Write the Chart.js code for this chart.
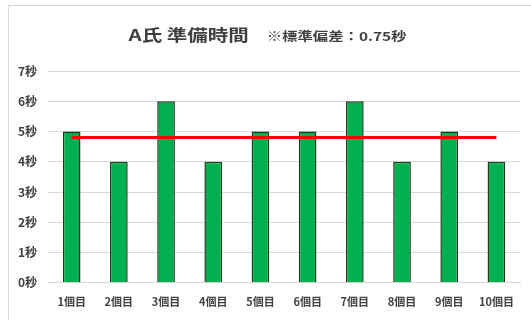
<!DOCTYPE html>
<html lang="ja">
<head>
<meta charset="utf-8">
<title>A氏 準備時間</title>
<script src="https://cdn.jsdelivr.net/npm/chart.js@4/dist/chart.umd.min.js"></script>
<style>
    html, body { margin: 0; padding: 0; background: #ffffff; }
    #chartBox { width: 531px; height: 320px; }
</style>
</head>
<body>
<div id="chartBox"><canvas id="prepChart"></canvas></div>
<script>
const attempts = ['1個目', '2個目', '3個目', '4個目', '5個目', '6個目', '7個目', '8個目', '9個目', '10個目'];
const prepSeconds = [5, 4, 6, 4, 5, 5, 6, 4, 5, 4];
const averageLine = [4.8, 4.8, 4.8, 4.8, 4.8, 4.8, 4.8, 4.8, 4.8, 4.8];
const titleMain = 'A氏 準備時間';
const titleNote = '※標準偏差：0.75秒';

const jpFont = '"Noto Sans CJK JP", "Noto Sans", sans-serif';
const labelColor = '#404040';

// frame + two-size heading (text drawn a bit wide)
const headingPlugin = {
    id: 'heading',
    beforeDraw(chart) {
        const ctx = chart.ctx;
        ctx.save();
        ctx.strokeStyle = '#d9d9d9';
        ctx.lineWidth = 1;
        ctx.strokeRect(8.5, 5.5, 540, 330);
        ctx.restore();
    },
    afterDraw(chart) {
        const ctx = chart.ctx;
        const stretch = 1.28;
        ctx.save();
        ctx.fillStyle = labelColor;
        ctx.textBaseline = 'middle';
        ctx.font = 'bold 16px ' + jpFont;
        const mainWidth = ctx.measureText(titleMain).width * stretch;
        ctx.font = 'bold 12px ' + jpFont;
        const noteWidth = ctx.measureText(titleNote).width * stretch;
        const gap = 18;
        const x = 267.5 - (mainWidth + gap + noteWidth) / 2;

        ctx.save();
        ctx.translate(x, 35);
        ctx.scale(stretch, 1);
        ctx.font = 'bold 16px ' + jpFont;
        ctx.fillText(titleMain, 0, 0);
        ctx.restore();

        ctx.save();
        ctx.translate(x + mainWidth + gap, 36);
        ctx.scale(stretch, 1);
        ctx.font = 'bold 12px ' + jpFont;
        ctx.fillText(titleNote, 0, 0);
        ctx.restore();

        ctx.restore();
    }
};

new Chart(document.getElementById('prepChart'), {
    data: {
        labels: attempts,
        datasets: [
            {
                type: 'line',
                data: averageLine,
                borderColor: '#ff0000',
                borderWidth: 3,
                pointRadius: 0,
                fill: false,
                order: 0,
            },
            {
                type: 'bar',
                data: prepSeconds,
                backgroundColor: '#00b050',
                borderColor: '#1e3b1e',
                borderWidth: 1.5,
                barPercentage: 0.75,
                categoryPercentage: 0.5,
                order: 1,
            }
        ]
    },
    options: {
        responsive: true,
        maintainAspectRatio: false,
        animation: false,
        layout: {
            padding: { top: 71, left: 7, right: 11, bottom: 8 }
        },
        plugins: {
            legend: { display: false },
            title: { display: false },
            tooltip: { enabled: false }
        },
        scales: {
            x: {
                grid: { display: false },
                border: { color: '#d9d9d9' },
                ticks: {
                    color: labelColor,
                    font: { family: jpFont, size: 11, weight: 'bold' },
                    maxRotation: 0,
                    padding: 4,
                }
            },
            y: {
                min: 0,
                max: 7,
                grid: { color: '#d9d9d9', drawTicks: false },
                border: { display: false },
                ticks: {
                    stepSize: 1,
                    color: labelColor,
                    font: { family: jpFont, size: 12, weight: 'bold' },
                    padding: 11,
                    callback: (value) => value + '秒',
                }
            }
        }
    },
    plugins: [headingPlugin]
});
</script>
</body>
</html>
